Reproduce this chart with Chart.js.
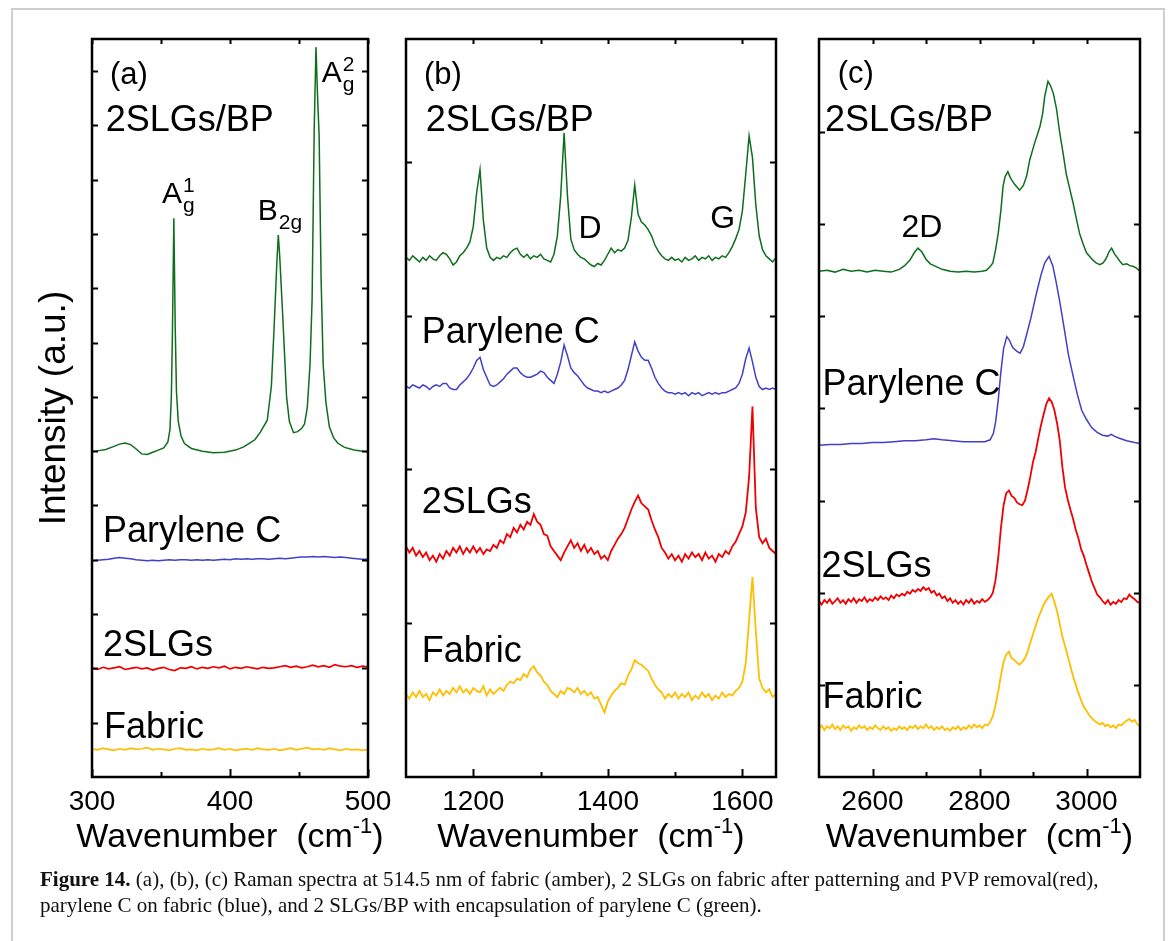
<!DOCTYPE html>
<html>
<head>
<meta charset="utf-8">
<script src="https://cdn.jsdelivr.net/npm/chart.js@4"></script>
<style>
  html, body { margin: 0; padding: 0; background: #fff; }
  #fig { position: relative; width: 1168px; height: 941px; overflow: hidden; }
  #frame { position: absolute; left: 11px; top: 8px; width: 1150px; height: 960px; border: 2px solid #cfcfcf; }
  canvas { position: absolute; left: 0; top: 0; }
  #caption { position: absolute; left: 40px; top: 866px; font-family: "Liberation Serif", "Times New Roman", serif;
             font-size: 21px; line-height: 26px; color: #111; white-space: nowrap; }
</style>
</head>
<body>
<div id="fig">
  <div id="frame"></div>
  <canvas id="panelA" width="1168" height="941"></canvas>
  <canvas id="panelB" width="1168" height="941"></canvas>
  <canvas id="panelC" width="1168" height="941"></canvas>
  <div id="caption"><b>Figure 14.</b> (a), (b), (c) Raman spectra at 514.5 nm of fabric (amber), 2 SLGs on fabric after patterning and PVP removal(red),<br>parylene C on fabric (blue), and 2 SLGs/BP with encapsulation of parylene C (green).</div>
</div>
<script>
// colours of the four samples
const GREEN = '#0d6e1c', BLUE = '#4040c8', RED = '#f00000', AMBER = '#ffbe00';

// ---------- panel (a): 300-500 cm-1 ----------
const aTicksX = [300, 350, 400, 450, 500];
const aLabelsX = [300, 400, 500];
const aTicksY = [1,2,3,4,5,6,7,8,9,10,11,12,13];

const aGridX = [300,304,308,312,316,320,324,328,332,336,340,344,348,352,356,360,364,368,372,376,
  380,384,388,392,396,400,404,408,412,416,420,424,428,432,436,440,444,448,452,456,
  460,464,468,472,476,480,484,488,492,496,500];

const aBpX = [300,305,310,315,320,324,328,332,336,340,344,348,352,355,356.5,357.5,358.3,359.3,360.3,361.2,
  362.5,364.5,367,372,380,388,396,404,410,415,418,422,427,430,432,434,435,436,438,439.5,
  441,443,446,449,452,454,456,458,459.5,461,462.3,463.5,464.6,466,467.5,469.5,472,475,478,483,
  490,496,500];
const aBpY = [5.99,6.01,6.03,6.08,6.13,6.15,6.12,6.04,5.95,5.94,5.98,6.02,6.06,6.17,6.4,7.0,8.2,10.29,8.3,7.1,
  6.55,6.28,6.14,6.05,6.00,5.97,5.98,6.02,6.08,6.16,6.21,6.35,6.57,7.2,8.3,9.5,9.98,9.6,8.6,7.8,
  7.0,6.55,6.34,6.36,6.42,6.5,6.8,7.6,8.8,11.9,13.44,12.5,11.8,9.2,7.6,6.9,6.45,6.25,6.15,6.07,
  6.02,6.0,5.99];
const aParyY = [3.98,3.99,4.00,4.01,4.03,4.04,4.03,4.02,4.00,3.99,
  3.98,3.99,3.98,3.99,4.00,3.99,4.00,4.00,3.99,4.00,
  3.99,4.00,3.99,4.00,4.01,4.00,4.02,4.01,4.02,4.01,
  4.02,4.02,4.01,4.02,4.03,4.02,4.03,4.04,4.05,4.05,
  4.06,4.05,4.06,4.05,4.04,4.05,4.04,4.03,4.02,4.01,
  4.01];
const aSlgY = [2.00,1.98,2.02,1.99,2.01,2.03,1.98,2.00,2.02,1.99,
  2.01,1.97,2.00,2.02,1.98,1.96,2.01,2.00,2.03,1.99,
  2.02,2.00,2.03,2.01,2.04,1.99,2.02,2.00,2.03,2.01,
  1.99,2.02,2.00,2.01,2.03,2.05,2.02,2.04,2.01,2.03,
  2.06,2.03,2.05,2.02,2.07,2.04,2.03,2.05,2.02,2.04,
  2.03];
const aFabY = [0.52,0.50,0.53,0.51,0.49,0.52,0.50,0.53,0.51,0.52,
  0.54,0.50,0.52,0.51,0.49,0.52,0.53,0.50,0.51,0.49,
  0.52,0.50,0.51,0.53,0.50,0.52,0.49,0.51,0.52,0.50,
  0.53,0.51,0.50,0.52,0.49,0.51,0.53,0.50,0.52,0.54,
  0.51,0.52,0.50,0.53,0.51,0.49,0.52,0.50,0.51,0.49,
  0.51];

// ---------- panel (b): 1100-1650 cm-1 ----------
const bTicksX = [1200, 1300, 1400, 1500, 1600];
const bLabelsX = [1200, 1400, 1600];
const bTicksY = [1, 2, 3, 4];

const bGridX = [1100,1105,1110,1115,1120,1125,1130,1135,1140,1145,
  1150,1155,1160,1165,1170,1175,1180,1185,1190,1195,
  1200,1205,1210,1215,1220,1225,1230,1235,1240,1245,
  1250,1255,1260,1265,1270,1275,1280,1285,1290,1295,
  1300,1305,1310,1315,1320,1325,1330,1335,1340,1345,
  1350,1355,1360,1365,1370,1375,1380,1385,1390,1395,
  1400,1405,1410,1415,1420,1425,1430,1435,1440,1445,
  1450,1455,1460,1465,1470,1475,1480,1485,1490,1495,
  1500,1505,1510,1515,1520,1525,1530,1535,1540,1545,
  1550,1555,1560,1565,1570,1575,1580,1585,1590,1595,
  1600,1605,1610,1615,1620,1625,1630,1635,1640,1645,
  1650];
const bBpY = [3.38,3.36,3.39,3.37,3.35,3.38,3.36,3.39,3.37,3.36,
  3.39,3.41,3.40,3.37,3.33,3.35,3.39,3.41,3.44,3.48,
  3.58,3.80,3.95,3.62,3.44,3.38,3.36,3.38,3.37,3.39,
  3.38,3.41,3.43,3.44,3.40,3.38,3.40,3.37,3.39,3.38,
  3.40,3.37,3.36,3.35,3.40,3.52,3.78,4.19,3.78,3.50,
  3.43,3.40,3.38,3.37,3.35,3.33,3.32,3.34,3.33,3.36,
  3.40,3.44,3.41,3.43,3.42,3.44,3.49,3.64,3.85,3.66,
  3.61,3.59,3.56,3.52,3.46,3.42,3.39,3.37,3.36,3.38,
  3.36,3.37,3.35,3.38,3.36,3.37,3.39,3.36,3.38,3.37,
  3.39,3.36,3.38,3.37,3.39,3.38,3.41,3.45,3.50,3.56,
  3.68,3.92,4.17,4.03,3.72,3.52,3.43,3.39,3.37,3.35,
  3.38];
const bParyY = [2.54,2.53,2.55,2.54,2.53,2.55,2.54,2.52,2.54,2.55,
  2.54,2.56,2.56,2.53,2.52,2.52,2.55,2.57,2.59,2.62,
  2.66,2.71,2.73,2.65,2.60,2.55,2.54,2.55,2.57,2.59,
  2.62,2.64,2.66,2.66,2.63,2.61,2.60,2.60,2.61,2.62,
  2.64,2.63,2.60,2.58,2.56,2.62,2.70,2.81,2.74,2.66,
  2.63,2.61,2.58,2.55,2.53,2.52,2.51,2.51,2.50,2.51,
  2.50,2.51,2.52,2.53,2.55,2.58,2.65,2.74,2.83,2.77,
  2.73,2.71,2.71,2.66,2.60,2.56,2.53,2.51,2.50,2.50,
  2.49,2.50,2.49,2.50,2.48,2.50,2.49,2.50,2.48,2.49,
  2.50,2.49,2.50,2.49,2.50,2.50,2.51,2.52,2.53,2.56,
  2.62,2.72,2.79,2.70,2.60,2.54,2.52,2.53,2.52,2.53,
  2.52];
const bSlgY = [1.50,1.46,1.49,1.44,1.47,1.43,1.46,1.41,1.44,1.40,
  1.45,1.42,1.47,1.44,1.49,1.46,1.50,1.45,1.49,1.46,
  1.50,1.46,1.49,1.45,1.48,1.47,1.51,1.49,1.54,1.52,
  1.58,1.56,1.62,1.59,1.64,1.61,1.66,1.64,1.71,1.66,
  1.64,1.58,1.57,1.50,1.47,1.44,1.41,1.46,1.50,1.54,
  1.49,1.52,1.47,1.51,1.46,1.49,1.45,1.47,1.42,1.44,
  1.41,1.47,1.51,1.55,1.58,1.62,1.68,1.74,1.79,1.83,
  1.78,1.76,1.74,1.67,1.61,1.56,1.49,1.46,1.42,1.45,
  1.41,1.44,1.40,1.45,1.42,1.46,1.43,1.45,1.41,1.46,
  1.42,1.44,1.40,1.45,1.43,1.47,1.45,1.50,1.53,1.58,
  1.63,1.72,1.95,2.41,1.75,1.56,1.52,1.55,1.49,1.47,
  1.45];
const bFabY = [0.54,0.51,0.55,0.52,0.56,0.52,0.54,0.50,0.55,0.53,
  0.57,0.53,0.56,0.54,0.58,0.55,0.59,0.55,0.57,0.54,
  0.58,0.56,0.55,0.59,0.53,0.57,0.54,0.56,0.58,0.56,
  0.60,0.62,0.61,0.64,0.63,0.67,0.65,0.70,0.72,0.68,
  0.66,0.62,0.60,0.56,0.54,0.52,0.56,0.54,0.58,0.57,
  0.55,0.58,0.54,0.56,0.53,0.55,0.51,0.52,0.47,0.42,
  0.49,0.53,0.56,0.58,0.61,0.60,0.66,0.70,0.76,0.74,
  0.73,0.71,0.69,0.64,0.60,0.57,0.55,0.51,0.54,0.52,
  0.55,0.51,0.54,0.52,0.55,0.50,0.53,0.51,0.55,0.52,
  0.54,0.50,0.53,0.51,0.55,0.52,0.54,0.53,0.56,0.58,
  0.62,0.74,1.02,1.30,0.95,0.64,0.58,0.55,0.57,0.52,
  0.54];

// ---------- panel (c): 2500-3100 cm-1 ----------
const cTicksX = [2600, 2700, 2800, 2900, 3000];
const cLabelsX = [2600, 2800, 3000];
const cTicksY = [1,2,3,4,5,6,7];

const cGridX = [2500,2505,2510,2515,2520,2525,2530,2535,2540,2545,
  2550,2555,2560,2565,2570,2575,2580,2585,2590,2595,
  2600,2605,2610,2615,2620,2625,2630,2635,2640,2645,
  2650,2655,2660,2665,2670,2675,2680,2685,2690,2695,
  2700,2705,2710,2715,2720,2725,2730,2735,2740,2745,
  2750,2755,2760,2765,2770,2775,2780,2785,2790,2795,
  2800,2805,2810,2815,2820,2825,2830,2835,2840,2845,
  2850,2855,2860,2865,2870,2875,2880,2885,2890,2895,
  2900,2905,2910,2915,2920,2925,2930,2935,2940,2945,
  2950,2955,2960,2965,2970,2975,2980,2985,2990,2995,
  3000,3005,3010,3015,3020,3025,3030,3035,3040,3045,
  3050,3055,3060,3065,3070,3075,3080,3085,3090,3095,
  3100];
const cBpX = [2500,2515,2530,2545,2560,2575,2590,2605,2620,2635,2650,2660,2670,2678,2685,2692,2700,2708,2715,2730,
  2745,2760,2775,2790,2805,2813,2820,2825,2830,2835,2840,2844,2848,2853,2858,2866,2875,2882,2888,2894,
  2903,2913,2918,2922,2928,2933,2938,2944,2950,2956,2962,2968,2975,2981,2987,2994,3000,3006,3012,3018,
  3025,3031,3037,3042,3047,3052,3056,3062,3068,3075,3081,3088,3094,3100];
const cBpY = [5.49,5.50,5.48,5.51,5.49,5.50,5.48,5.50,5.49,5.48,5.51,5.55,5.61,5.69,5.74,5.70,5.62,5.57,5.55,5.51,
  5.49,5.48,5.49,5.48,5.49,5.50,5.54,5.58,5.72,5.90,6.15,6.41,6.52,6.57,6.50,6.43,6.37,6.42,6.52,6.70,
  6.88,7.06,7.20,7.39,7.55,7.50,7.42,7.25,6.99,6.78,6.55,6.40,6.23,6.06,5.90,5.78,5.69,5.65,5.61,5.58,
  5.56,5.58,5.63,5.70,5.74,5.68,5.65,5.60,5.56,5.57,5.55,5.54,5.52,5.49];
const cParyX = [2500,2520,2540,2560,2580,2600,2620,2640,2660,2680,2700,2715,2730,2750,2770,2790,2810,2820,2826,2830,
  2835,2840,2845,2851,2856,2862,2870,2876,2882,2888,2896,2906,2915,2922,2930,2937,2943,2950,2958,2966,
  2975,2983,2991,3000,3010,3020,3030,3040,3046,3052,3060,3075,3090,3100];
const cParyY = [3.60,3.61,3.61,3.62,3.62,3.63,3.63,3.64,3.65,3.65,3.66,3.67,3.66,3.65,3.64,3.64,3.64,3.66,3.73,3.85,
  4.09,4.40,4.65,4.78,4.74,4.66,4.62,4.60,4.67,4.80,4.98,5.24,5.45,5.58,5.65,5.55,5.38,5.16,4.88,4.59,
  4.35,4.15,3.98,3.88,3.79,3.74,3.71,3.70,3.72,3.70,3.68,3.65,3.63,3.62];
const cSlgY = [1.91,1.87,1.92,1.89,1.93,1.88,1.91,1.94,1.89,1.92,
  1.88,1.93,1.90,1.94,1.89,1.93,1.91,1.95,1.90,1.93,
  1.91,1.95,1.92,1.96,1.93,1.95,1.92,1.97,1.94,1.98,
  1.96,1.99,1.97,2.01,1.99,2.03,2.01,2.04,2.02,2.06,
  2.03,2.05,2.00,2.02,1.97,1.99,1.94,1.96,1.91,1.94,
  1.89,1.92,1.88,1.91,1.87,1.92,1.89,1.93,1.88,1.91,
  1.89,1.93,1.90,1.92,1.95,2.00,2.14,2.38,2.70,2.95,
  3.08,3.11,3.05,3.03,2.98,2.96,2.95,3.00,3.12,3.26,
  3.42,3.53,3.68,3.82,3.94,4.05,4.11,4.07,3.98,3.84,
  3.65,3.36,3.14,3.01,2.90,2.80,2.68,2.59,2.47,2.40,
  2.30,2.21,2.12,2.05,1.98,1.95,1.91,1.88,1.92,1.87,
  1.90,1.88,1.92,1.90,1.94,1.93,1.98,1.95,1.93,1.90,
  1.89];
const cFabY = [0.52,0.56,0.51,0.55,0.53,0.57,0.52,0.55,0.51,0.56,
  0.53,0.55,0.50,0.54,0.52,0.56,0.53,0.55,0.51,0.54,
  0.52,0.56,0.53,0.51,0.55,0.52,0.54,0.50,0.53,0.51,
  0.55,0.52,0.54,0.51,0.55,0.53,0.56,0.52,0.55,0.53,
  0.57,0.53,0.55,0.51,0.54,0.52,0.55,0.51,0.53,0.50,
  0.54,0.52,0.55,0.51,0.54,0.52,0.56,0.53,0.57,0.54,
  0.56,0.53,0.57,0.56,0.60,0.66,0.78,0.93,1.10,1.25,
  1.33,1.36,1.29,1.27,1.24,1.22,1.25,1.29,1.36,1.46,
  1.55,1.64,1.73,1.80,1.87,1.92,1.96,1.99,1.90,1.80,
  1.66,1.52,1.42,1.31,1.20,1.09,1.00,0.91,0.83,0.76,
  0.72,0.67,0.64,0.61,0.59,0.57,0.59,0.55,0.57,0.54,
  0.56,0.53,0.57,0.56,0.59,0.61,0.63,0.60,0.62,0.57,
  0.55];

// sample names, peak names (text parts: [string, 'n' | 'sub' | 'sup'])
const aNotes = [
  { x: 313, y: 12.76, parts: [['(a)', 'n']], size: 31 },
  { x: 310, y: 11.9, parts: [['2SLGs/BP', 'n']] },
  { x: 350.7, y: 10.57, parts: [['A', 'n'], ['g', 'sub'], ['1', 'sup']], size: 30 },
  { x: 420.1, y: 10.26, parts: [['B', 'n'], ['2g', 'sub']], size: 30 },
  { x: 466.4, y: 12.8, parts: [['A', 'n'], ['g', 'sub'], ['2', 'sup']], size: 30 },
  { x: 308, y: 4.33, parts: [['Parylene C', 'n']] },
  { x: 308, y: 2.22, parts: [['2SLGs', 'n']] },
  { x: 308.7, y: 0.72, parts: [['Fabric', 'n']] }
];
const bNotes = [
  { x: 1126.7, y: 4.51, parts: [['(b)', 'n']], size: 31 },
  { x: 1129.2, y: 4.2, parts: [['2SLGs/BP', 'n']] },
  { x: 1356.5, y: 3.506, parts: [['D', 'n']], size: 32 },
  { x: 1552.2, y: 3.57, parts: [['G', 'n']], size: 32 },
  { x: 1123.3, y: 2.825, parts: [['Parylene C', 'n']] },
  { x: 1123.3, y: 1.717, parts: [['2SLGs', 'n']] },
  { x: 1123.3, y: 0.75, parts: [['Fabric', 'n']] }
];
const cNotes = [
  { x: 2535, y: 7.535, parts: [['(c)', 'n']], size: 31 },
  { x: 2511, y: 7.014, parts: [['2SLGs/BP', 'n']] },
  { x: 2654, y: 5.866, parts: [['2D', 'n']], size: 32 },
  { x: 2506.5, y: 4.148, parts: [['Parylene C', 'n']] },
  { x: 2504.7, y: 2.175, parts: [['2SLGs', 'n']] },
  { x: 2506.5, y: 0.749, parts: [['Fabric', 'n']] }
];

const FONT = '"Liberation Sans", Arial, Helvetica, sans-serif';

function pts(xs, ys) {
  return xs.map(function (x, i) { return { x: x, y: ys[i] }; });
}

function line(data, color, width) {
  return { data: data, borderColor: color, borderWidth: width || 1.5, pointRadius: 0, tension: 0, fill: false };
}

// draws a run of text with sub/superscripts starting at (x, baseline y)
function richText(ctx, parts, x, y, size) {
  let cx = x, lastBase = x;
  parts.forEach(function (p) {
    const t = p[0], kind = p[1];
    if (kind === 'n') {
      ctx.font = size + 'px ' + FONT;
      ctx.fillText(t, cx, y);
      lastBase = cx + ctx.measureText(t).width;
      cx = lastBase;
    } else {
      const s = Math.round(size * 0.7);
      ctx.font = s + 'px ' + FONT;
      const dy = kind === 'sub' ? size * 0.3 : -size * 0.37;
      ctx.fillText(t, lastBase + 1, y + dy);
      cx = Math.max(cx, lastBase + 1 + ctx.measureText(t).width);
    }
  });
}

function framePlugin(opts) {
  return {
    id: 'frame',
    afterDraw: function (chart) {
      const ctx = chart.ctx, a = chart.chartArea;
      const sx = chart.scales.x, sy = chart.scales.y;
      ctx.save();
      ctx.strokeStyle = '#000';
      ctx.lineWidth = 2;
      // inward ticks on all four sides
      opts.ticksX.forEach(function (v) {
        const px = Math.round(sx.getPixelForValue(v)) + 0.5;
        const len = opts.labelsX.indexOf(v) >= 0 ? 8 : 5;
        ctx.beginPath();
        ctx.moveTo(px, a.bottom); ctx.lineTo(px, a.bottom - len);
        ctx.moveTo(px, a.top); ctx.lineTo(px, a.top + 5);
        ctx.stroke();
      });
      opts.ticksY.forEach(function (v) {
        const py = Math.round(sy.getPixelForValue(v)) + 0.5;
        ctx.beginPath();
        ctx.moveTo(a.left, py); ctx.lineTo(a.left + 6, py);
        ctx.moveTo(a.right, py); ctx.lineTo(a.right - 6, py);
        ctx.stroke();
      });
      ctx.lineWidth = 2.5;
      ctx.strokeRect(a.left, a.top, a.right - a.left, a.bottom - a.top);

      ctx.fillStyle = '#000';
      ctx.textBaseline = 'alphabetic';
      // tick labels
      ctx.textAlign = 'center';
      ctx.font = '28px ' + FONT;
      opts.labelsX.forEach(function (v) {
        ctx.fillText(String(v), sx.getPixelForValue(v), a.bottom + 33);
      });
      // axis title with cm^-1
      const big = '34px ' + FONT, small = '22px ' + FONT;
      ctx.textAlign = 'left';
      ctx.font = big;
      const w1 = ctx.measureText('Wavenumber  (cm').width, w3 = ctx.measureText(')').width;
      ctx.font = small;
      const w2 = ctx.measureText('-1').width;
      let x0 = (a.left + a.right) / 2 - (w1 + w2 + w3) / 2;
      const yb = a.bottom + 70;
      ctx.font = big; ctx.fillText('Wavenumber  (cm', x0, yb);
      ctx.font = small; ctx.fillText('-1', x0 + w1, yb - 14);
      ctx.font = big; ctx.fillText(')', x0 + w1 + w2, yb);

      // sample and peak names
      opts.notes.forEach(function (n) {
        richText(ctx, n.parts, sx.getPixelForValue(n.x), sy.getPixelForValue(n.y), n.size || 36);
      });

      if (opts.yTitle) {
        ctx.translate(55, 408);
        ctx.rotate(-Math.PI / 2);
        ctx.textAlign = 'center';
        ctx.textBaseline = 'middle';
        ctx.font = '37px ' + FONT;
        ctx.fillText(opts.yTitle, 0, 0);
      }
      ctx.restore();
    }
  };
}

function makePanel(id, o) {
  return new Chart(document.getElementById(id), {
    type: 'line',
    data: { datasets: o.datasets },
    options: {
      responsive: false,
      animation: false,
      devicePixelRatio: 1,
      layout: { padding: o.padding },
      plugins: { legend: { display: false }, tooltip: { enabled: false } },
      scales: {
        x: { type: 'linear', min: o.xMin, max: o.xMax, display: false },
        y: { type: 'linear', min: 0, max: o.yMax, display: false }
      }
    },
    plugins: [framePlugin(o)]
  });
}

makePanel('panelA', {
  xMin: 300, xMax: 500, yMax: 13.59,
  padding: { left: 92, top: 39, right: 800, bottom: 164 },
  ticksX: aTicksX, labelsX: aLabelsX, ticksY: aTicksY, notes: aNotes,
  yTitle: 'Intensity (a.u.)',
  datasets: [
    line(pts(aBpX, aBpY), GREEN),
    line(pts(aGridX, aParyY), BLUE),
    line(pts(aGridX, aSlgY), RED, 1.7),
    line(pts(aGridX, aFabY), AMBER, 1.7)
  ]
});

makePanel('panelB', {
  xMin: 1100, xMax: 1650, yMax: 4.8,
  padding: { left: 406, top: 39, right: 392, bottom: 164 },
  ticksX: bTicksX, labelsX: bLabelsX, ticksY: bTicksY, notes: bNotes,
  datasets: [
    line(pts(bGridX, bBpY), GREEN),
    line(pts(bGridX, bParyY), BLUE),
    line(pts(bGridX, bSlgY), RED, 1.8),
    line(pts(bGridX, bFabY), AMBER, 1.8)
  ]
});

makePanel('panelC', {
  xMin: 2500, xMax: 3100, yMax: 8.01,
  padding: { left: 819, top: 39, right: 28, bottom: 164 },
  ticksX: cTicksX, labelsX: cLabelsX, ticksY: cTicksY, notes: cNotes,
  datasets: [
    line(pts(cBpX, cBpY), GREEN),
    line(pts(cParyX, cParyY), BLUE),
    line(pts(cGridX, cSlgY), RED, 1.8),
    line(pts(cGridX, cFabY), AMBER, 1.8)
  ]
});
</script>
</body>
</html>
